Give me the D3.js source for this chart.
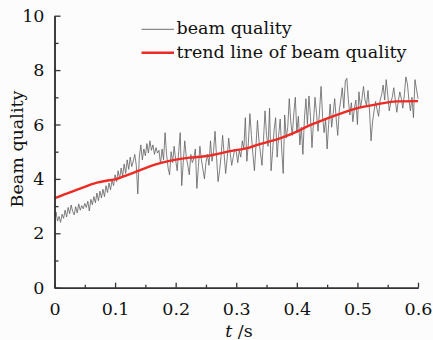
<!DOCTYPE html>
<html>
<head>
<meta charset="utf-8">
<script src="https://cdn.jsdelivr.net/npm/d3@7"></script>
<style>
  html, body { margin: 0; padding: 0; background: #fcfcfc; }
  svg { display: block; }
  text { font-family: "DejaVu Serif", serif; fill: #111; }
</style>
</head>
<body>
<svg id="chart" width="433" height="340"></svg>
<script>
// Sampling interval of the measured series (s)
const sampleStep = 0.0025;

// Measured beam quality, one value per sample starting at t = 0
const beamQuality = [
  2.40, 2.78, 2.45, 2.62, 2.40, 2.70, 2.55, 2.85, 2.60, 2.95, 2.72, 3.04, 2.80, 2.68, 2.98, 2.75, 3.08, 2.85, 3.02, 2.90,
  3.10, 2.95, 3.18, 2.82, 3.25, 3.05, 3.35, 3.12, 3.48, 3.20, 3.55, 3.30, 3.62, 3.35, 3.75, 3.50, 3.85, 3.60, 3.95, 3.75,
  4.15, 3.90, 4.30, 4.00, 4.40, 4.10, 4.55, 4.20, 4.70, 4.35, 4.80, 4.45, 4.65, 4.90, 4.50, 3.45, 4.80, 5.25, 4.70, 5.10,
  4.85, 5.30, 4.95, 5.40, 5.05, 5.25, 4.90, 5.15, 4.95, 5.05, 4.55, 5.10, 4.70, 5.70, 4.90, 4.40, 4.15, 5.00, 4.60, 5.20,
  4.70, 4.30, 5.00, 5.70, 3.75, 4.60, 5.40, 4.80, 4.50, 4.15, 4.90, 4.60, 4.75, 5.10, 3.65, 4.45, 5.20, 4.70, 4.35, 4.00,
  4.60, 4.90, 4.50, 5.40, 4.65, 5.00, 5.75, 4.80, 3.90, 4.30, 4.85, 5.60, 4.90, 4.20, 4.75, 5.50, 4.95, 4.50, 4.80, 5.10,
  5.00, 4.60, 5.05, 4.80, 5.40, 5.10, 6.25, 4.65, 5.30, 6.40, 5.60, 4.90, 4.30, 5.20, 6.15, 5.40, 4.95, 4.50, 5.45, 6.50,
  5.60, 5.20, 6.60, 4.30, 5.00, 5.80, 6.25, 4.80, 5.60, 6.20, 5.10, 4.20, 6.35, 5.50, 5.90, 6.95, 6.10, 5.60, 6.40, 7.00,
  5.70, 6.30, 5.25, 5.90, 4.90, 6.20, 6.95, 6.00, 7.05, 6.30, 5.15, 6.10, 7.00, 6.40, 5.75, 6.50, 7.40, 6.30, 5.70, 6.20,
  5.10, 6.00, 6.75, 5.90, 6.40, 6.95, 6.20, 5.60, 6.50, 6.90, 7.35, 6.60, 7.60, 7.70, 6.90, 6.35, 6.80, 6.10, 6.60, 6.90,
  6.00, 7.20, 6.60, 6.95, 7.40, 6.90, 6.70, 7.25, 6.50, 5.40, 6.10, 6.50, 6.85, 6.55, 6.30, 6.90, 7.10, 7.45, 6.90, 7.65,
  7.10, 6.50, 6.80, 7.00, 7.35, 6.90, 6.45, 6.85, 7.20, 6.95, 6.60, 7.10, 7.75, 7.50, 6.90, 6.50, 7.00, 6.25, 7.65, 7.30,
  6.95
];

// Trend line of beam quality
const trendTime  = [0, 0.02, 0.04, 0.07, 0.09, 0.10, 0.11, 0.13, 0.15, 0.17, 0.19, 0.223, 0.251, 0.29, 0.323, 0.339, 0.372, 0.40, 0.422, 0.446, 0.471, 0.50, 0.532, 0.565, 0.60];
const trendValue = [3.29, 3.46, 3.62, 3.86, 3.95, 3.98, 4.06, 4.22, 4.40, 4.55, 4.66, 4.78, 4.84, 5.02, 5.16, 5.28, 5.49, 5.74, 5.98, 6.19, 6.39, 6.60, 6.74, 6.85, 6.86];

// Axis ticks
const xMajorTicks = [0, 0.1, 0.2, 0.3, 0.4, 0.5, 0.6];
const xMinorTicks = [0.05, 0.15, 0.25, 0.35, 0.45, 0.55];
const yMajorTicks = [0, 2, 4, 6, 8, 10];
const yMinorTicks = [1, 3, 5, 7, 9];

const legendLabels = ["beam quality", "trend line of beam quality"];
const xTitle = "/s";
const yTitle = "Beam quality";

const fontFamily = '"DejaVu Serif", serif';
const fontSize = "17.5px";
const svg = d3.select("#chart");
const plot = { left: 54.5, right: 418, top: 15.7, bottom: 287.7 };

const x = d3.scaleLinear().domain([0, 0.6]).range([plot.left, plot.right]);
const y = d3.scaleLinear().domain([0, 10]).range([plot.bottom, plot.top]);

const measured = beamQuality.map((v, i) => ({ t: i * sampleStep, v }));
const trend = trendTime.map((t, i) => ({ t, v: trendValue[i] }));

const axisColor = "#333";
const seriesGray = "#606060";
const trendRed = "#ee2a24";

// Measured series
svg.append("path")
  .datum(measured)
  .attr("fill", "none")
  .attr("stroke", seriesGray)
  .attr("stroke-width", 0.8)
  .attr("stroke-linejoin", "round")
  .attr("d", d3.line().x(d => x(d.t)).y(d => y(d.v)));

// Trend line
svg.append("path")
  .datum(trend)
  .attr("fill", "none")
  .attr("stroke", trendRed)
  .attr("stroke-width", 2.4)
  .attr("d", d3.line().curve(d3.curveMonotoneX).x(d => x(d.t)).y(d => y(d.v)));

// Axes with inward ticks
function styleAxis(g) {
  g.select(".domain").attr("stroke", axisColor).attr("stroke-width", 1.5);
  g.selectAll(".tick line").attr("stroke", axisColor).attr("stroke-width", 1.3);
  g.selectAll(".tick text").attr("fill", "#111").style("font-size", fontSize)
    .style("font-family", fontFamily);
}

const xAxisMinor = svg.append("g").attr("transform", `translate(0,${plot.bottom})`)
  .call(d3.axisBottom(x).tickValues(xMinorTicks).tickSize(-3).tickSizeOuter(0).tickFormat(""));
styleAxis(xAxisMinor);
const xAxis = svg.append("g").attr("transform", `translate(0,${plot.bottom})`)
  .call(d3.axisBottom(x).tickValues(xMajorTicks).tickSize(-5).tickSizeOuter(0).tickPadding(15)
    .tickFormat(d => d === 0 ? "0" : d3.format(".1f")(d)));
styleAxis(xAxis);

const yAxisMinor = svg.append("g").attr("transform", `translate(${plot.left},0)`)
  .call(d3.axisLeft(y).tickValues(yMinorTicks).tickSize(-4).tickSizeOuter(0).tickFormat(""));
styleAxis(yAxisMinor);
const yAxis = svg.append("g").attr("transform", `translate(${plot.left},0)`)
  .call(d3.axisLeft(y).tickValues(yMajorTicks).tickSize(-6).tickSizeOuter(0).tickPadding(10)
    .tickFormat(d3.format("d")));
styleAxis(yAxis);

// Axis titles
const xt = svg.append("text")
  .attr("x", 239).attr("y", 337)
  .attr("text-anchor", "middle")
  .style("font-size", fontSize);
xt.append("tspan").style("font-style", "italic").text("t");
xt.append("tspan").text(" " + xTitle);

svg.append("text")
  .attr("transform", "translate(23,149) rotate(-90)")
  .attr("text-anchor", "middle")
  .style("font-size", fontSize)
  .text(yTitle);

// Legend
const legend = svg.append("g");
const legendStyles = [
  { stroke: seriesGray, width: 0.9 },
  { stroke: trendRed, width: 2.6 }
];
legendLabels.forEach((label, i) => {
  const ly = 29.3 + i * 23.4;
  legend.append("line")
    .attr("x1", 141.5).attr("x2", 174)
    .attr("y1", ly).attr("y2", ly)
    .attr("stroke", legendStyles[i].stroke)
    .attr("stroke-width", legendStyles[i].width);
  legend.append("text")
    .attr("x", 176.5).attr("y", ly + 5)
    .style("font-size", fontSize)
    .text(label);
});
</script>
</body>
</html>
